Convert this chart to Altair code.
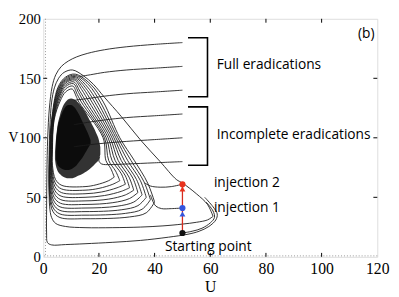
import altair as alt
import pandas as pd

# ---------------- axis values ----------------
x_ticks = [0, 20, 40, 60, 80, 100, 120]
y_ticks = [0, 50, 100, 150, 200]
x_inner_ticks = [20, 40, 60, 80, 100]
y_inner_ticks = [50, 100, 150]

# ---------------- trajectories (U, V) ----------------
traj_full_180 = [(50, 180), (40, 178.5), (30, 176.5), (22, 174), (16, 171), (12, 168), (9, 164.5),
                 (6.5, 160), (4.5, 153), (3.2, 143), (2.2, 125), (1.6, 100), (1.3, 70), (1.2, 40),
                 (1.2, 20), (1.5, 12), (3, 10), (8, 10.3), (15, 11), (25, 12.2), (35, 13.8),
                 (45, 16.5), (52, 19), (56, 21.5), (59.5, 25.5), (62, 31), (62.5, 36), (61, 42), (58, 50)]
traj_full_160 = [(50, 160), (40, 158.5), (30, 157), (22, 155), (17, 153), (13, 151.5)]
traj_full_140 = [(50, 140), (40, 138.5), (30, 137), (22, 135), (16, 133), (11, 131.5)]
traj_inc_120 = [(50, 120), (40, 118.5), (30, 117), (22, 115), (16, 113), (11, 111)]
traj_inc_100 = [(50, 100), (40, 98.5), (30, 97), (22, 95.5), (16, 94), (11, 92.5)]
traj_inc_80 = [(50, 80), (40, 79), (30, 78), (24, 77.5), (21, 78), (20, 80.5), (20.3, 84)]
traj_start = [(50, 20), (53.5, 21.5), (57, 24), (60, 28.5), (61.5, 33), (61, 38.5), (58.5, 46)]
traj_inj1 = [(50, 41), (46, 40.5), (42.5, 40.5), (40.5, 42.5), (39.5, 46), (38.5, 52)]
traj_inj2 = [(50, 61), (46, 59), (42, 58.5), (38.5, 59.5), (36.5, 62)]

loop_01 = [(61, 34), (59, 44), (55, 53), (50, 62), (47.8, 65), (42, 80), (35, 98), (28, 118), (22, 134),
           (18, 145), (14.5, 152), (10.5, 157), (7.5, 155), (5.5, 150), (4, 142), (3, 130), (2.4, 110),
           (2.1, 85), (2.1, 60), (2.3, 42), (3, 33), (4.5, 28), (8, 25.5), (15, 24.5), (25, 24.5),
           (35, 25), (43, 26), (50, 27.5), (55, 29), (59, 31), (61, 34)]
loop_02 = [(40, 46), (37.5, 62), (32.7, 81), (27.5, 100), (21.6, 130), (17, 145), (11.5, 153.5), (8, 151),
           (5.2, 142), (3, 115), (2.3, 90), (2.3, 50), (3.5, 38), (6, 33), (15, 32), (31, 33.5), (37, 37), (40, 46)]
loop_03 = [(38.5, 48), (36.2, 63), (31.5, 81), (26.8, 100), (20.5, 130), (16.3, 144.5), (11.5, 152.5), (8, 150),
           (5.3, 141), (3.1, 115), (2.4, 90), (2.4, 53), (3.6, 41), (6, 36), (15, 35), (29.5, 36.5), (35.5, 40), (38.5, 48)]
loop_04 = [(37, 50), (34.9, 64), (30.3, 81), (26.1, 100), (19.5, 130), (15.6, 143.5), (11.5, 151.5), (8, 149),
           (5.4, 140), (3.2, 115), (2.5, 90), (2.5, 56), (3.7, 44), (6, 39), (15, 38), (28, 39.5), (34, 43), (37, 50)]
loop_05 = [(35.5, 52), (33.5, 65), (29.1, 81), (25.4, 100), (18.5, 130), (15, 142.5), (11.5, 150.5), (8, 148),
           (5.5, 139), (3.3, 115), (2.6, 90), (2.6, 59), (3.8, 47), (6, 42), (15, 41), (26.5, 42.5), (32.5, 46), (35.5, 52)]
loop_06 = [(34, 54), (32.2, 66), (28, 81), (24.7, 100), (17.5, 130), (14.4, 141.5), (11.3, 149.5), (8, 147),
           (5.6, 138), (3.4, 115), (2.75, 90), (2.75, 62), (3.9, 50), (6.2, 45), (15, 44), (25, 45.5), (31, 49), (34, 54)]
loop_07 = [(32.5, 56), (30.8, 67), (26.9, 81), (24, 100), (16.5, 130), (13.8, 140.5), (11.2, 148.5), (8, 146),
           (5.7, 137), (3.5, 115), (2.9, 90), (2.9, 65), (4, 53), (6.3, 48), (15, 47), (23.5, 48.5), (29.5, 52), (32.5, 56)]
loop_08 = [(31, 58), (29.5, 68), (25.8, 81), (23.3, 100), (15.5, 130), (13.2, 139), (11, 147), (8, 144.5),
           (5.8, 136), (3.6, 115), (3.0, 90), (3.0, 68), (4.1, 56), (6.4, 51), (15, 50), (22, 51.5), (28, 55), (31, 58)]
loop_09 = [(29.5, 61), (28, 70), (24.7, 81), (22.6, 100), (14.6, 130), (12.7, 138), (10.8, 145.5), (8, 143),
           (5.9, 135), (3.7, 115), (3.1, 90), (3.1, 71), (4.2, 59), (6.5, 54), (15, 53), (21, 54.5), (26.5, 58), (29.5, 61)]
loop_10 = [(27.5, 64), (26, 72), (23.5, 81), (22, 100), (13.7, 130), (12.2, 136.5), (10.6, 143.5), (8, 141),
           (6, 133), (3.8, 115), (3.2, 90), (3.2, 74), (4.3, 62), (6.6, 57), (15, 56), (20, 57.5), (25, 61), (27.5, 64)]
loop_11 = [(25.5, 67), (24.3, 74), (22.5, 81), (21.5, 100), (12.8, 130), (11.8, 135), (10.4, 141), (8, 138.5),
           (6.1, 131), (3.9, 115), (3.3, 90), (3.3, 77), (4.4, 65), (6.7, 60), (15, 59), (19, 60.5), (23.5, 64), (25.5, 67)]

trajectories = {
    "full180": traj_full_180, "full160": traj_full_160, "full140": traj_full_140,
    "inc120": traj_inc_120, "inc100": traj_inc_100, "inc80": traj_inc_80,
    "start": traj_start, "inj1": traj_inj1, "inj2": traj_inj2,
    "loop01": loop_01, "loop02": loop_02, "loop03": loop_03, "loop04": loop_04,
    "loop05": loop_05, "loop06": loop_06, "loop07": loop_07, "loop08": loop_08,
    "loop09": loop_09, "loop10": loop_10, "loop11": loop_11,
}

# dense spiral region (converged part of the orbits)
blob_U = [4.2, 4.6, 5, 6, 7, 8, 9, 10, 11, 12, 13, 14, 15, 16, 17, 18, 19, 20, 20.5]
blob_top = [88, 100, 108, 119, 126, 130, 132.5, 133, 132.5, 131, 128.5, 125.5, 122, 118, 113.5, 109, 104, 98, 92]
blob_bot = [82, 76, 73, 69.5, 67.5, 66.5, 66, 66, 66.5, 67.5, 68.5, 69.5, 71, 72.5, 74.5, 76.5, 79, 82, 86]
core_U = [4.6, 5, 6, 7, 8, 9, 10, 11, 12, 13, 14, 15, 16, 17]
core_top = [98, 106, 116, 122, 126, 127.5, 127.5, 126, 123, 119, 114, 109, 104, 98]
core_bot = [82, 78, 75, 73.5, 73, 73, 73.5, 75, 77, 80, 83, 87, 91, 95]

# injection markers
inj_line_U = [50, 50]
inj_line_V = [20, 61]
dots_U = [50, 50, 50]
dots_V = [20, 41, 61]
dots_col = ["black", "blue", "red"]
tri_U = [50, 50]
tri_V = [36, 57]
tri_col = ["blue", "red"]

# brackets
br1_U = [52, 59, 59, 52]
br1_V = [184, 184, 134.5, 134.5]
br2_U = [52, 59, 59, 52]
br2_V = [126, 126, 77, 77]

# labels
lab_text = ["Full eradications", "Incomplete eradications", "injection 2", "injection 1", "Starting point"]
lab_U = [62.3, 62.3, 61.3, 61.3, 43.7]
lab_V = [161.5, 102.5, 62, 41, 8.5]

# ---------------- build tables ----------------
rows = []
for name, pts in trajectories.items():
    for i, (u, v) in enumerate(pts):
        rows.append({"traj": name, "i": i, "U": u, "V": v})
traj_df = pd.DataFrame(rows)

blob_df = pd.DataFrame({"U": blob_U, "top": blob_top, "bot": blob_bot})
core_df = pd.DataFrame({"U": core_U, "top": core_top, "bot": core_bot})
inj_df = pd.DataFrame({"U": inj_line_U, "V": inj_line_V, "i": [0, 1]})
dots_df = pd.DataFrame({"U": dots_U, "V": dots_V, "c": dots_col})
tri_df = pd.DataFrame({"U": tri_U, "V": tri_V, "c": tri_col})
br_df = pd.DataFrame({
    "U": br1_U + br2_U, "V": br1_V + br2_V,
    "b": ["b1"] * 4 + ["b2"] * 4, "i": list(range(4)) * 2,
})
lab_df = pd.DataFrame({"t": lab_text, "U": lab_U, "V": lab_V})

xs = alt.Scale(domain=[0, 120], nice=False, zero=False)
ys = alt.Scale(domain=[0, 200], nice=False, zero=False)

X = alt.X("U:Q", scale=xs, axis=alt.Axis(values=x_ticks, title="U", grid=False, ticks=False, domain=False,
                                         labelFont="Liberation Serif", labelFontSize=16, labelPadding=4,
                                         labelFlush=False, labelColor="black",
                                         titleFont="Liberation Serif", titleFontSize=16, titleFontWeight="normal",
                                         titleY=22, titleBaseline="top", titleColor="black"))
Y = alt.Y("V:Q", scale=ys, axis=alt.Axis(values=y_ticks, title="V", grid=False, ticks=False, domain=False,
                                         labelFont="Liberation Serif", labelFontSize=15, labelPadding=3,
                                         labelFlush=False, labelColor="black",
                                         titleFont="Liberation Serif", titleFontSize=14, titleFontWeight="normal",
                                         titleAngle=0, titleX=-36, titleY=121, titleAlign="left",
                                         titleBaseline="middle", titleColor="black"))

blob = alt.Chart(blob_df).mark_area(color="#333333", interpolate="monotone").encode(
    x=alt.X("U:Q", scale=xs), y=alt.Y("top:Q", scale=ys), y2="bot:Q")
core = alt.Chart(core_df).mark_area(color="#0c0c0c", interpolate="monotone").encode(
    x=alt.X("U:Q", scale=xs), y=alt.Y("top:Q", scale=ys), y2="bot:Q")

lines = alt.Chart(traj_df).mark_line(color="#1a1a1a", strokeWidth=0.9, interpolate="catmull-rom").encode(
    x=X, y=Y, detail="traj:N", order="i:Q")

inj = alt.Chart(inj_df).mark_line(color="#d62b1e", strokeWidth=1.3).encode(
    x=alt.X("U:Q", scale=xs), y=alt.Y("V:Q", scale=ys), order="i:Q")

cmap = alt.Scale(domain=["black", "blue", "red"], range=["#111111", "#3355dd", "#e8321e"])
dots = alt.Chart(dots_df).mark_point(filled=True, size=40, opacity=1, shape="circle").encode(
    x=alt.X("U:Q", scale=xs), y=alt.Y("V:Q", scale=ys), color=alt.Color("c:N", scale=cmap, legend=None))
tris = alt.Chart(tri_df).mark_point(filled=True, size=36, opacity=1, shape="triangle-up").encode(
    x=alt.X("U:Q", scale=xs), y=alt.Y("V:Q", scale=ys), color=alt.Color("c:N", scale=cmap, legend=None))

brackets = alt.Chart(br_df).mark_line(color="black", strokeWidth=1.6).encode(
    x=alt.X("U:Q", scale=xs), y=alt.Y("V:Q", scale=ys), detail="b:N", order="i:Q")

labels = alt.Chart(lab_df).mark_text(align="left", baseline="middle", font="Open Sans", fontSize=14,
                                     color="black").encode(
    x=alt.X("U:Q", scale=xs), y=alt.Y("V:Q", scale=ys), text="t:N")
panel = alt.Chart(pd.DataFrame({"t": ["(b)"], "U": [119], "V": [187]})).mark_text(
    align="right", baseline="middle", font="Open Sans", fontSize=14, color="black").encode(
    x=alt.X("U:Q", scale=xs), y=alt.Y("V:Q", scale=ys), text="t:N")

# inward tick marks on all four sides
tdf_x = pd.DataFrame({"U": x_inner_ticks})
tdf_y = pd.DataFrame({"V": y_inner_ticks})
tick_b = alt.Chart(tdf_x).mark_rule(color="black", strokeWidth=1).encode(
    x=alt.X("U:Q", scale=xs), y=alt.value(243), y2=alt.value(239))
tick_t = alt.Chart(tdf_x).mark_rule(color="black", strokeWidth=1).encode(
    x=alt.X("U:Q", scale=xs), y=alt.value(0), y2=alt.value(4))
tick_l = alt.Chart(tdf_y).mark_rule(color="black", strokeWidth=1).encode(
    y=alt.Y("V:Q", scale=ys), x=alt.value(0), x2=alt.value(4))
tick_r = alt.Chart(tdf_y).mark_rule(color="black", strokeWidth=1).encode(
    y=alt.Y("V:Q", scale=ys), x=alt.value(341), x2=alt.value(337))

# faint dotted zero lines seen inside the frame
zero_v = alt.Chart(pd.DataFrame({"U": [0.8]})).mark_rule(color="#999999", strokeDash=[1, 2]).encode(
    x=alt.X("U:Q", scale=xs))
zero_h = alt.Chart(pd.DataFrame({"V": [0.8]})).mark_rule(color="#999999", strokeDash=[1, 2]).encode(
    y=alt.Y("V:Q", scale=ys))

chart = alt.layer(
    zero_v, zero_h, blob, core, lines, inj, tris, dots, brackets, labels, panel,
    tick_b, tick_t, tick_l, tick_r
).properties(
    width=341, height=243,
    autosize=alt.AutoSizeParams(type="none"),
    padding={"left": 36, "top": 8, "right": 14, "bottom": 38},
).configure_view(stroke="black", strokeWidth=1.2).configure(background="white")

chart.save("out.html", embed_options={"renderer": "svg", "actions": False})
